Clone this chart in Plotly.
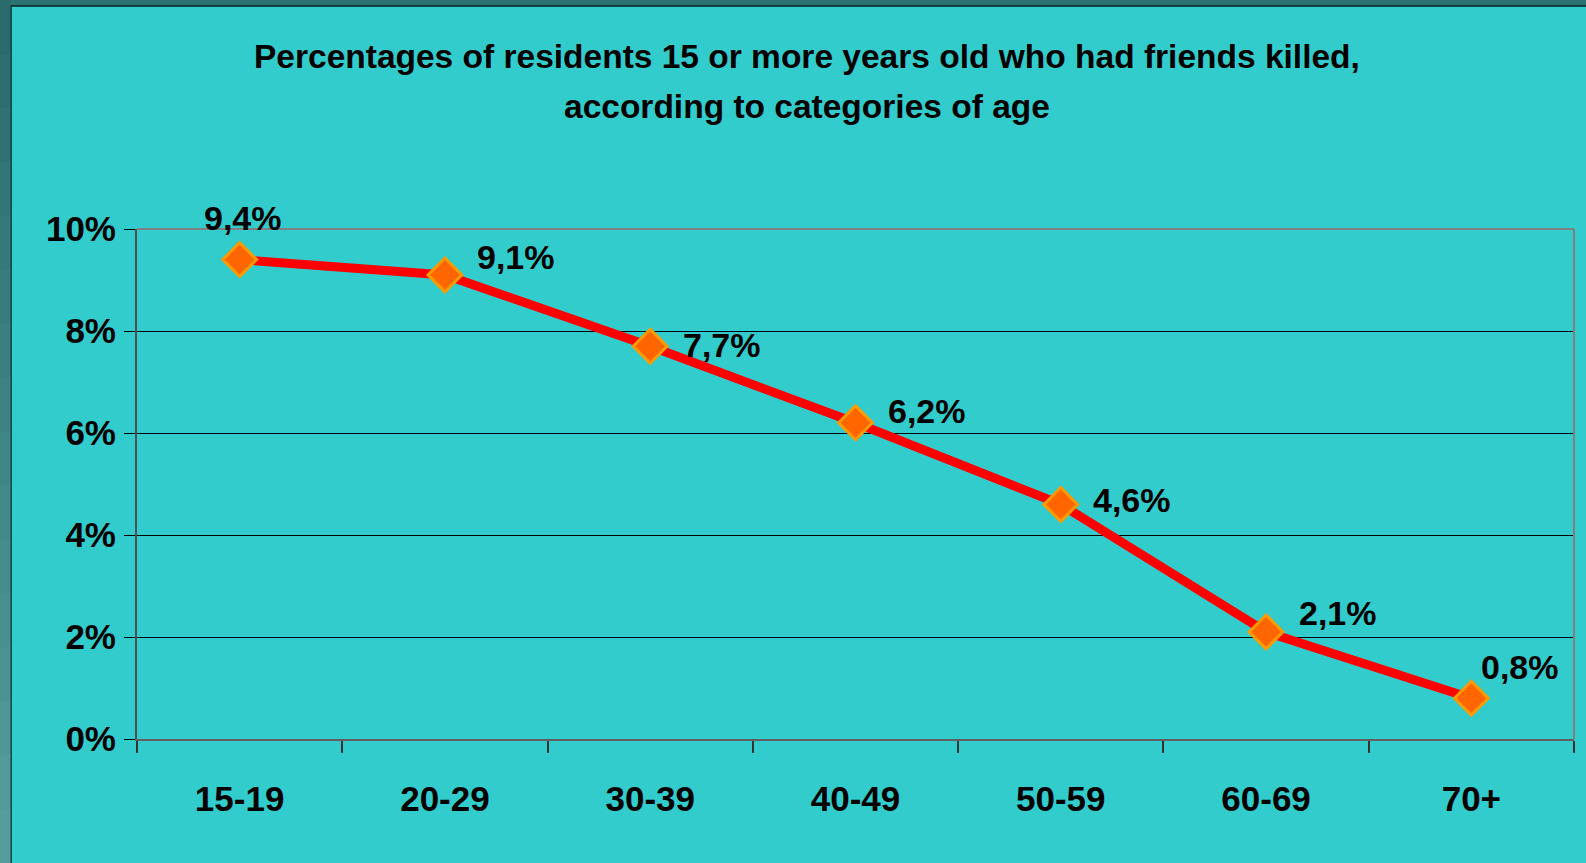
import plotly.graph_objects as go

# ---- data ----
categories = ["15-19", "20-29", "30-39", "40-49", "50-59", "60-69", "70+"]
values = [9.4, 9.1, 7.7, 6.2, 4.6, 2.1, 0.8]
labels = ["9,4%", "9,1%", "7,7%", "6,2%", "4,6%", "2,1%", "0,8%"]
y_tickvals = [0, 2, 4, 6, 8, 10]
y_ticktext = ["0%", "2%", "4%", "6%", "8%", "10%"]
title_lines = ["Percentages of residents 15 or more years old who had friends killed,",
               "according to categories of age"]

# label offsets (pixels) relative to each marker
label_dx = [3, 71, 72, 71, 71, 72, 49]
label_dy = [42, 18, 1, 12, 4, 19, 31]

W, H = 1586, 863
L, R, T, B = 137, 12, 229, 124
pw, ph = W - L - R, H - T - B

def px_x(p):
    return (p - L) / pw

def px_y(p):
    return (H - B - p) / ph

FONT = "Liberation Sans, Arial, sans-serif"

fig = go.Figure()
fig.add_trace(go.Scatter(
    x=categories, y=values, mode="lines+markers",
    line=dict(color="#FF0000", width=9),
    marker=dict(symbol="diamond", size=26, color="#FF6600",
                line=dict(color="#FF9900", width=3)),
    hoverinfo="skip", showlegend=False, cliponaxis=False,
))

shapes = []
# slide background (teal panel with dark frame)
shapes.append(dict(type="rect", xref="paper", yref="paper", layer="below",
                   x0=px_x(11), x1=px_x(W + 10), y0=px_y(H + 10), y1=px_y(6),
                   fillcolor="#33CCCC", line=dict(color="#0A2020", width=1.5)))
# left dark strip gradient bands
top_c = (0x2A, 0x6C, 0x6C)
bot_c = (0x55, 0x9C, 0x9C)
nb = 16
for i in range(nb):
    t = i / (nb - 1)
    c = tuple(int(round(top_c[k] + (bot_c[k] - top_c[k]) * t)) for k in range(3))
    y0p = H * i / nb
    y1p = H * (i + 1) / nb
    shapes.append(dict(type="rect", xref="paper", yref="paper", layer="below",
                       x0=px_x(-2), x1=px_x(10.5), y0=px_y(y1p + 1), y1=px_y(y0p),
                       fillcolor="rgb(%d,%d,%d)" % c, line=dict(width=0)))
# plot-area border (top / right gray)
shapes.append(dict(type="line", xref="paper", yref="paper", x0=0, x1=1, y0=1, y1=1,
                   line=dict(color="#808080", width=2)))
shapes.append(dict(type="line", xref="paper", yref="paper", x0=1, x1=1, y0=0, y1=1,
                   line=dict(color="#808080", width=2)))

annotations = []
for i, (c, v, t) in enumerate(zip(categories, values, labels)):
    annotations.append(dict(x=c, y=v, xref="x", yref="y", text="<b>%s</b>" % t,
                            showarrow=False, xshift=label_dx[i], yshift=label_dy[i],
                            font=dict(family=FONT, size=34, color="black")))
annotations.append(dict(x=px_x(807), y=px_y(56), xref="paper", yref="paper",
                        xanchor="center", yanchor="middle", showarrow=False,
                        text="<b>%s</b>" % title_lines[0],
                        font=dict(family=FONT, size=33.5, color="black")))
annotations.append(dict(x=px_x(807), y=px_y(107), xref="paper", yref="paper",
                        xanchor="center", yanchor="middle", showarrow=False,
                        text="<b>%s</b>" % title_lines[1],
                        font=dict(family=FONT, size=33.5, color="black")))

fig.update_layout(
    width=W, height=H,
    margin=dict(l=L, r=R, t=T, b=B, pad=0),
    paper_bgcolor="#2C7272",
    plot_bgcolor="rgba(0,0,0,0)",
    shapes=shapes,
    annotations=annotations,
    xaxis=dict(
        type="category", tickson="boundaries", ticks="outside", ticklen=12,
        tickcolor="#333333", tickwidth=1.5,
        showline=True, linecolor="#606060", linewidth=2,
        showgrid=False, zeroline=False,
        tickfont=dict(family=FONT, size=35, color="black", weight="bold"),
        ticklabelstandoff=28,
        range=[-0.5, 6.5], fixedrange=True,
    ),
    yaxis=dict(
        range=[0, 10], tickvals=y_tickvals, ticktext=y_ticktext,
        ticks="outside", ticklen=11, tickcolor="black", tickwidth=1,
        showline=True, linecolor="#505050", linewidth=2,
        showgrid=True, gridcolor="black", gridwidth=1, zeroline=False,
        tickfont=dict(family=FONT, size=35, color="black", weight="bold"),
        ticklabelstandoff=1,
        fixedrange=True,
    ),
)

fig.write_html("out.html", config={"displayModeBar": False},
               post_script="document.body.style.margin='0';document.body.style.overflow='hidden';")
